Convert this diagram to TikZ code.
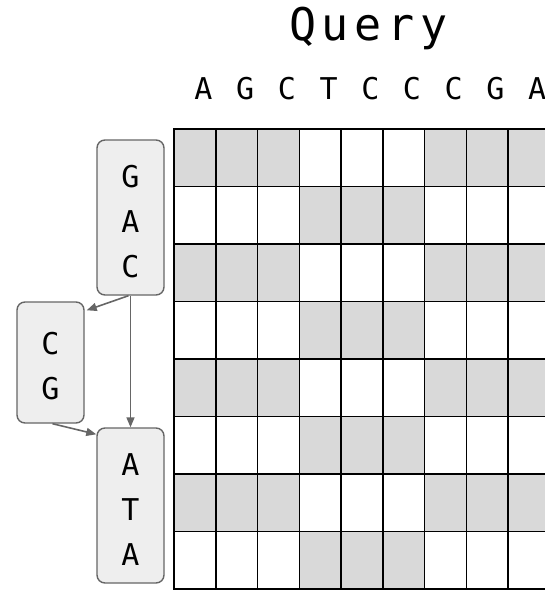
\documentclass[tikz,border=0pt]{standalone}
\usepackage{fontspec}
\setmonofont{DejaVu Sans Mono}
\usetikzlibrary{arrows.meta}
\definecolor{cellgray}{HTML}{D9D9D9}
\definecolor{boxfill}{HTML}{EEEEEE}
\definecolor{edgegray}{HTML}{666666}
\newcommand{\topstrut}{\rule{0pt}{30pt}}
\tikzset{
  gridline/.style={draw=black, line width=1.5pt},
  seqbox/.style={draw=edgegray, fill=boxfill, rounded corners=8pt, line width=1.4pt,
    minimum width=67pt, inner sep=0pt, align=center,
    font=\fontsize{30}{45}\selectfont\ttfamily},
  collabel/.style={anchor=base, inner sep=0pt, font=\fontsize{30}{36}\selectfont\ttfamily},
  link/.style={draw=edgegray, line width=1.6pt, -{Triangle[length=10pt,width=8pt]}}
}
\begin{document}
\begin{tikzpicture}[x=1pt,y=-1pt]
\useasboundingbox (0,0) rectangle (545,591);
\begin{scope}
\clip (0,0) rectangle (545,591);
\foreach \r in {0,2,4,6} {
  \fill[cellgray] (174,{129+57.5*\r}) rectangle +(125.25,57.5);
  \fill[cellgray] (424.5,{129+57.5*\r}) rectangle +(125.25,57.5);
}
\foreach \r in {1,3,5,7} {
  \fill[cellgray] (299.25,{129+57.5*\r}) rectangle +(125.25,57.5);
}
\foreach \c in {0,...,9} \draw[gridline] ({174+41.75*\c},129) -- ++(0,460);
\foreach \r in {0,...,8} \draw[gridline] (173.25,{129+57.5*\r}) -- ++(377,0);
\end{scope}
\node[anchor=base, inner sep=0pt, font=\fontsize{45}{54}\selectfont\ttfamily\addfontfeature{LetterSpace=13}] (title) at (368.5,41) {Query};
\foreach \l [count=\i from 0] in {A,G,C,T,C,C,C,G,A}
  \node[collabel] (q\i) at ({203.5+41.7*\i},100) {\l};
\node[seqbox, minimum height=155pt] (gac) at (130.5,217.5) {\topstrut G\\A\\C};
\node[seqbox, minimum height=121pt] (cg) at (50.5,362.5) {\topstrut C\\G};
\node[seqbox, minimum height=155pt] (ata) at (130.5,505.5) {\topstrut A\\T\\A};
\draw[link] (gac.south) -- (ata.north);
\draw[link] ([xshift=-2pt]gac.south) -- ([xshift=2pt,yshift=-9pt]cg.north east);
\draw[link] ([xshift=2pt]cg.south) -- ([yshift=-7pt]ata.north west);
\end{tikzpicture}
\end{document}
